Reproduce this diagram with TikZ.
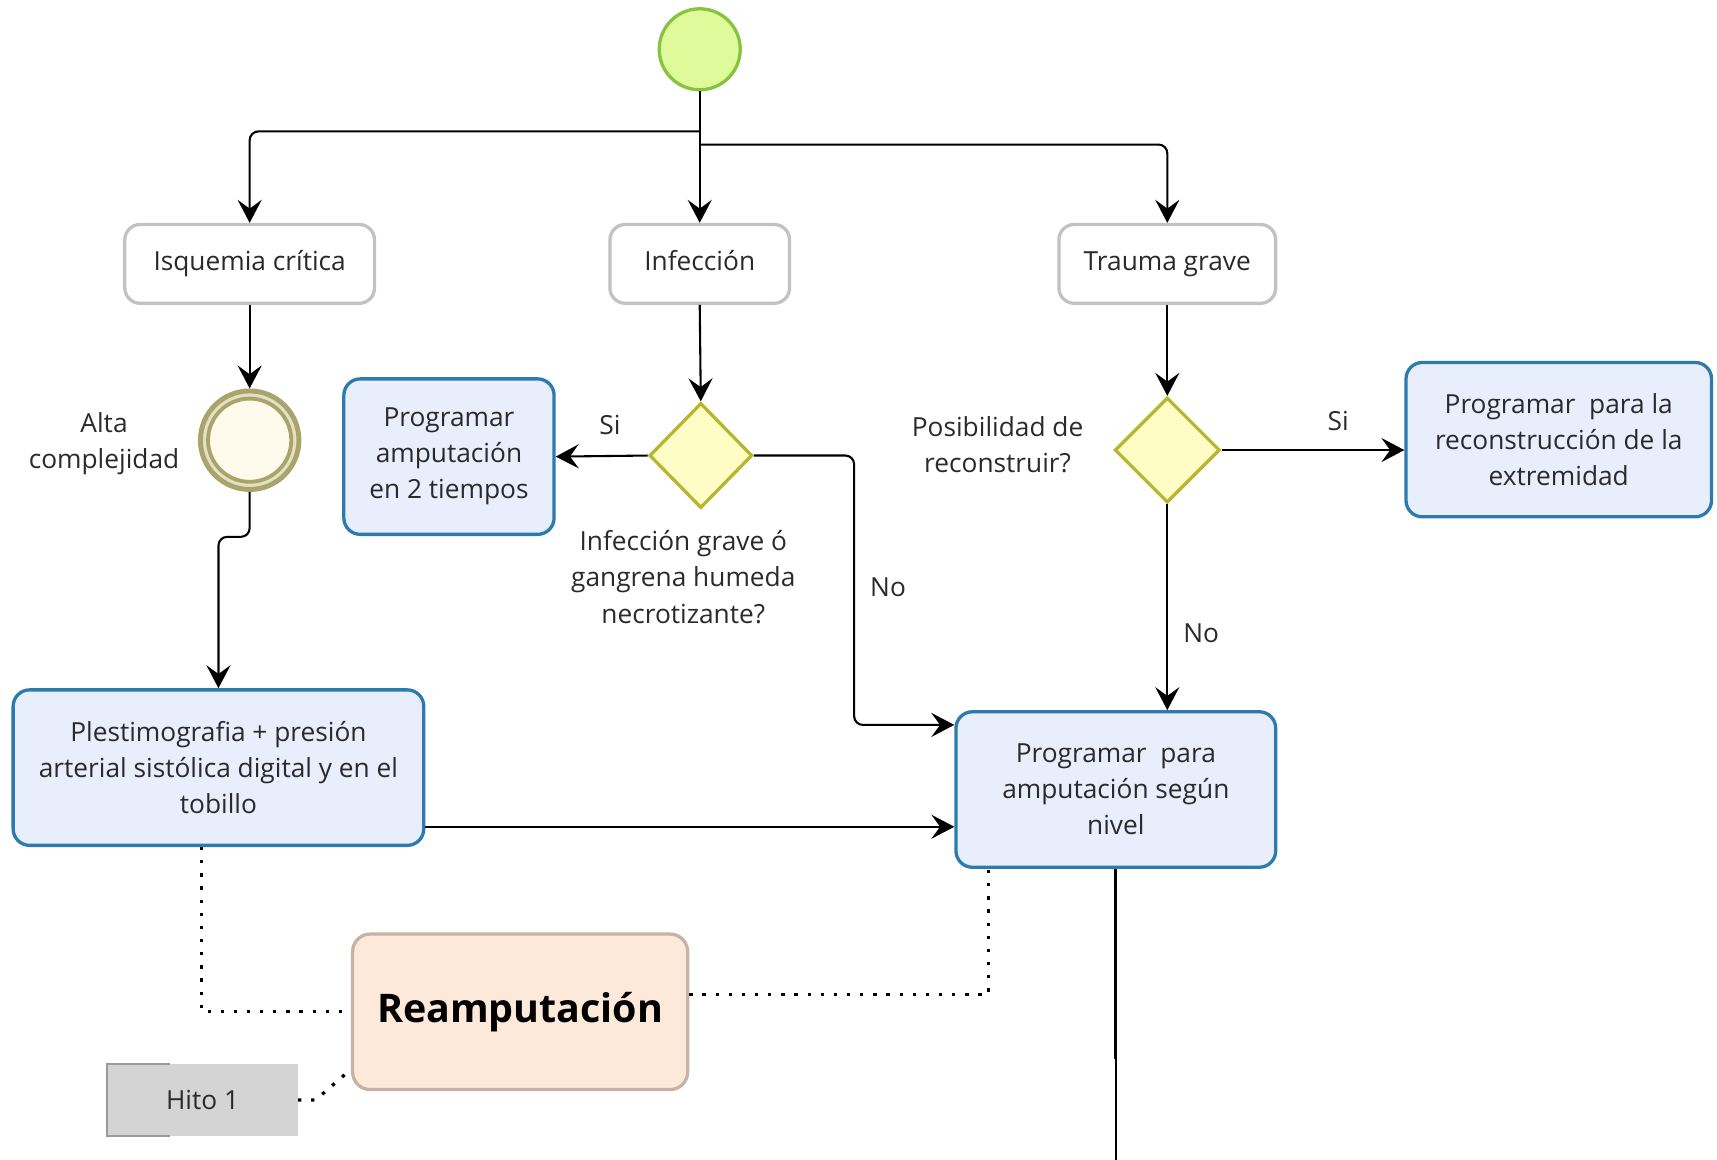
\documentclass[tikz,border=0pt]{standalone}
\usepackage{fontspec}
\setmainfont{Open Sans}
\usetikzlibrary{shapes.geometric,arrows.meta,calc}

\definecolor{txt}{HTML}{2A2A2A}
\definecolor{startfill}{HTML}{DFFA9A}
\definecolor{startline}{HTML}{86C440}
\definecolor{ringline}{HTML}{A9A46C}
\definecolor{ringgap}{HTML}{E4E0C4}
\definecolor{ringfill}{HTML}{FFFAEC}
\definecolor{gatefill}{HTML}{FFFDC6}
\definecolor{gateline}{HTML}{B8B62E}
\definecolor{taskfill}{HTML}{E8EEFC}
\definecolor{taskline}{HTML}{2C7AAE}
\definecolor{catline}{HTML}{C2C2C2}
\definecolor{reamfill}{HTML}{FCE9DA}
\definecolor{reamline}{HTML}{C6B2A6}
\definecolor{hitofill}{HTML}{D4D4D4}
\definecolor{hitoline}{HTML}{9A9A9A}

\tikzset{
  every node/.style={font=\fontsize{24}{33}\selectfont, text=txt, align=center, inner sep=0pt},
  category/.style={draw=catline, line width=3pt, fill=white, rounded corners=14pt,
                   text height=18pt, text depth=6pt},
  task/.style={draw=taskline, line width=3pt, fill=taskfill, rounded corners=15pt},
  gate/.style={diamond, draw=gateline, line width=3pt, fill=gatefill, inner sep=0pt},
  conn/.style={draw=black, line width=1.9pt, rounded corners=8pt,
               -{Stealth[length=21pt,width=22pt,inset=8pt]}},
  plainconn/.style={draw=black, line width=1.9pt},
  assoc/.style={draw=black, line width=3pt, dash pattern=on 3pt off 9pt},
}

\begin{document}
\begin{tikzpicture}[x=1pt,y=-1pt]
\useasboundingbox (0,0) rectangle (1568,1059);

% start event
\node[circle, draw=startline, fill=startfill, line width=3pt, minimum size=74pt] (start) at (639,45) {};

% three entry categories
\node[category, minimum width=228pt, minimum height=72pt] (isq) at (228,241) {Isquemia crítica};
\node[category, minimum width=164pt, minimum height=72pt] (inf) at (639,241) {Infección};
\node[category, minimum width=198pt, minimum height=72pt] (tra) at (1066,241) {Trauma grave};

% intermediate event (double ring)
\node[circle, draw=ringline, fill=ringgap, line width=4.5pt, minimum size=90pt] (alta) at (228,402) {};
\node[circle, draw=ringline, fill=ringfill, line width=3.5pt, minimum size=76pt] (altain) at (alta) {};
\node (altalbl) at (95,405) {Alta\\complejidad};

% gateways
\node[gate, minimum width=94pt, minimum height=96pt] (g1) at (640,416) {};
\node[gate, minimum width=96pt, minimum height=96pt] (g2) at (1066,411) {};
\node (g1lbl) at (624,527) {Infección grave ó\\gangrena humeda\\necrotizante?};
\node (g2lbl) at (911,406) {Posibilidad de\\reconstruir?};

% tasks
\node[task, minimum width=192pt, minimum height=142pt] (dos) at (410,417) {Programar\\amputación\\en 2 tiempos};
\node[task, minimum width=279pt, minimum height=141pt] (rec) at (1423.5,401.5) {Programar\ \ para la\\reconstrucción de la\\extremidad};
\node[task, minimum width=292pt, minimum height=142pt] (amp) at (1019,721) {Programar\ \ para\\amputación según\\nivel};
\node[task, minimum width=375pt, minimum height=142pt] (ple) at (199.5,701)
  {Plestimografia + presión\\arterial sistólica digital y en el\\tobillo};

% re-amputation group and milestone annotation
\node[draw=reamline, fill=reamfill, line width=3pt, rounded corners=16pt,
      minimum width=306pt, minimum height=142pt,
      font=\fontsize{36}{42}\selectfont\bfseries, text=black] (ream) at (475,924) {Reamputación};
\node[fill=hitofill, minimum width=174pt, minimum height=65pt] (hito) at (185,1004.5) {Hito 1};
\draw[hitoline, line width=1.5pt] ([xshift=57pt]hito.north west) -- (hito.north west)
  -- (hito.south west) -- ([xshift=57pt]hito.south west);

% flow from start
\coordinate (j1) at (639,120);
\coordinate (j2) at (639,132);
\draw[plainconn] (start.south) -- (j2);
\draw[conn] (j1) -| (isq.north);
\draw[conn] (j2) -| (tra.north);
\draw[conn] (j2) -- (inf.north);

% ischemia branch
\draw[conn] (isq.south) -- (alta.north);
\draw[conn] (alta.south) -- ++(0,41) -| (ple.north);

% infection branch
\draw[conn] (inf.south) -- (g1.north);
\draw[conn] (g1.west) -- (dos.east);
\node (si1) at (557,388) {Si};
\coordinate (c1) at (780,662);
\draw[conn] (g1.east) -| (c1) -- (c1 -| amp.west);
\node (no1) at (811,536) {No};

% trauma branch
\draw[conn] (tra.south) -- (g2.north);
\draw[conn] (g2.east) -- (g2.east -| rec.west);
\node (si2) at (1222,384) {Si};
\draw[conn] (g2.south) -- (g2.south |- amp.north);
\node (no2) at (1097,578) {No};

% studies to amputation
\coordinate (p1) at ([yshift=-54pt]ple.east);
\draw[conn] (p1) -- (p1 -| amp.west);

% outgoing flow
\coordinate (t1) at (1019,967);
\coordinate (t2) at (1019,1059);
\draw[black, line width=2.6pt] (amp.south) -- (t1);
\draw[plainconn] (t1) -- (t2);

% associations
\draw[assoc] ([xshift=-15.5pt]ple.south) |- (ream.west);
\draw[assoc] ([yshift=16pt]ream.east) -| ([xshift=-116pt]amp.south);
\draw[assoc] (hito.east) -- ++(16,0) -- ([yshift=20pt]ream.south west);
\end{tikzpicture}
\end{document}
